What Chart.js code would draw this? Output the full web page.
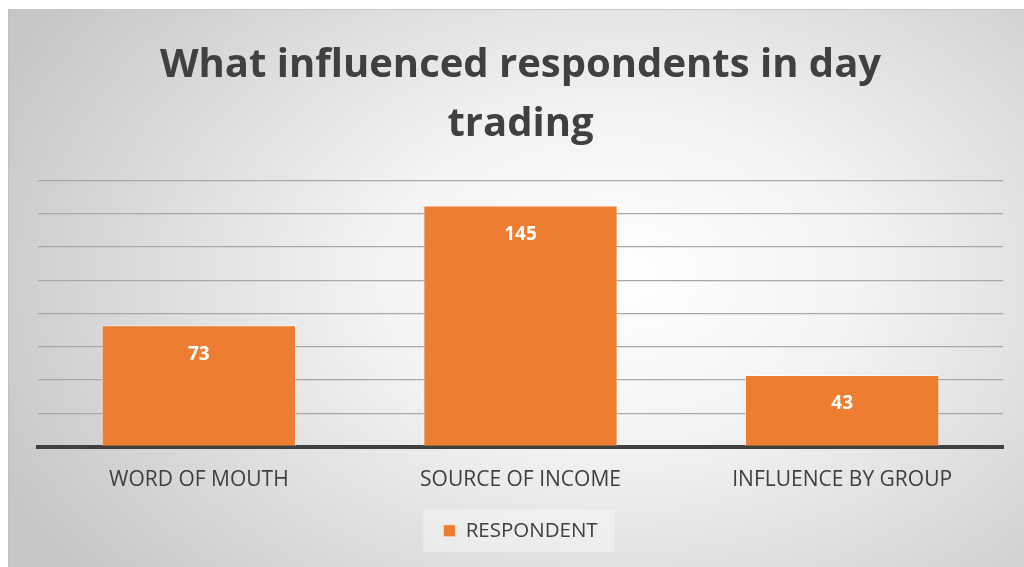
<!DOCTYPE html>
<html>
<head>
<meta charset="utf-8">
<script src="https://cdn.jsdelivr.net/npm/chart.js@4"></script>
<style>
  html, body { margin: 0; padding: 0; background: #ffffff; }
  #frame {
    position: absolute; left: 8px; top: 9px; width: 1016px; height: 558px;
    background: radial-gradient(ellipse 68% 85% at 60% 48%, #ffffff 0%, #f3f3f3 35%, #c6c6c6 100%);
    border-left: 1px solid #c0c0c0; border-top: 1px solid #c8c8c8;
    box-sizing: border-box;
  }
</style>
</head>
<body>
<div id="frame"><canvas id="chart" width="1015" height="557"></canvas></div>
<script>
// Chart data
const titleLines = ['What influenced respondents in day', 'trading'];
const categories = ['WORD OF MOUTH', 'SOURCE OF INCOME', 'INFLUENCE BY GROUP'];
const seriesName = 'RESPONDENT';
const respondents = [73, 145, 43];
const axisMax = 160;
const axisStep = 20;

// Value labels inside the top of each bar
const barLabels = {
    id: 'barLabels',
    afterDatasetsDraw(chart) {
        const ctx = chart.ctx;
        const meta = chart.getDatasetMeta(0);
        ctx.save();
        ctx.fillStyle = '#ffffff';
        ctx.font = 'bold 19px "Open Sans"';
        ctx.textAlign = 'center';
        ctx.textBaseline = 'middle';
        meta.data.forEach((bar, i) => {
            ctx.fillText(respondents[i], bar.x, bar.y + 29);
        });
        ctx.restore();
    }
};

// Faint box behind the legend
const legendBox = {
    id: 'legendBox',
    beforeDraw(chart) {
        const hb = chart.legend.legendHitBoxes[0];
        if (!hb) return;
        const ctx = chart.ctx;
        ctx.save();
        ctx.fillStyle = 'rgba(255,255,255,0.35)';
        ctx.fillRect(hb.left - 20, hb.top - 11, hb.width + 37, hb.height + 22);
        ctx.restore();
    }
};

const ctx = document.getElementById('chart').getContext('2d');
const chart = new Chart(ctx, {
    type: 'bar',
    data: {
        labels: categories,
        datasets: [{
            label: seriesName,
            data: respondents,
            backgroundColor: '#ED7D31',
            borderColor: 'rgba(255,255,255,0.55)',
            borderWidth: 1,
            categoryPercentage: 1,
            barPercentage: 0.604
        }]
    },
    options: {
        responsive: false,
        animation: false,
        layout: {
            padding: { left: 29, right: 21, top: 0, bottom: 16 }
        },
        plugins: {
            title: {
                display: true,
                text: titleLines,
                color: '#404040',
                font: { family: 'Open Sans', size: 40, weight: 'bold', lineHeight: 1.47 },
                padding: { top: 26, bottom: 27 }
            },
            legend: {
                position: 'bottom',
                labels: {
                    color: '#404040',
                    font: { family: 'Open Sans', size: 20.5 },
                    boxWidth: 12,
                    boxHeight: 12,
                    padding: 10
                }
            },
            tooltip: { enabled: false }
        },
        scales: {
            x: {
                grid: { display: false, drawTicks: false },
                border: { display: true, color: '#404040', width: 4 },
                ticks: {
                    color: '#404040',
                    font: { family: 'Open Sans', size: 21 },
                    padding: 21
                },
                afterFit(scale) { scale.height = 64; }
            },
            y: {
                min: 0,
                max: axisMax,
                ticks: { display: false, stepSize: axisStep },
                grid: { color: '#a8a8a8', lineWidth: 1.3, drawTicks: false },
                border: { display: false }
            }
        }
    },
    plugins: [legendBox, barLabels]
});
</script>
</body>
</html>
